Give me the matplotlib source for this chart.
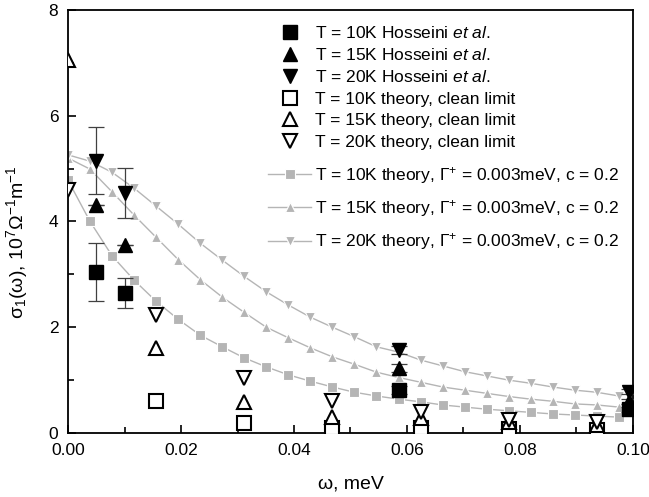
import numpy as np
import matplotlib
matplotlib.use("Agg")
import matplotlib.pyplot as plt

plt.rcParams['font.family'] = ['Liberation Sans', 'DejaVu Sans']
plt.rcParams['mathtext.fontset'] = 'custom'
plt.rcParams['mathtext.rm'] = 'Liberation Sans'
plt.rcParams['mathtext.it'] = 'Liberation Sans:italic'
plt.rcParams['mathtext.bf'] = 'Liberation Sans:bold'

# theory curves (disorder), omega grid
w_theory = [i * 0.0039 for i in range(26)]
s10_theory = [4.78, 4.00, 3.35, 2.89, 2.49, 2.15, 1.85, 1.63, 1.42, 1.25, 1.10, 0.98, 0.87,
              0.77, 0.70, 0.64, 0.59, 0.53, 0.49, 0.45, 0.42, 0.39, 0.36, 0.34, 0.32, 0.30]
s15_theory = [5.20, 4.99, 4.56, 4.12, 3.70, 3.28, 2.90, 2.57, 2.28, 2.00, 1.80, 1.61, 1.44,
              1.30, 1.15, 1.05, 0.96, 0.87, 0.81, 0.75, 0.69, 0.64, 0.60, 0.55, 0.53, 0.49]
s20_theory = [5.26, 5.14, 4.93, 4.63, 4.29, 3.95, 3.59, 3.27, 2.96, 2.67, 2.42, 2.19, 2.00,
              1.82, 1.63, 1.53, 1.38, 1.27, 1.16, 1.08, 1.00, 0.94, 0.87, 0.81, 0.77, 0.70]

# clean limit
w_clean = [0.0, 0.0156, 0.0312, 0.0468, 0.0625, 0.0781, 0.0937]
s10_clean = [9.5, 0.60, 0.19, 0.10, 0.10, 0.07, 0.05]
s15_clean = [7.05, 1.60, 0.59, 0.30, 0.28, 0.20, 0.15]
s20_clean = [4.60, 2.23, 1.04, 0.60, 0.40, 0.25, 0.20]

# experiment (Hosseini et al.)
w_exp = [0.005, 0.0100, 0.0585, 0.0993]
s10_exp = [3.04, 2.65, 0.81, 0.45]
s10_err = [0.55, 0.29, 0.08, 0.05]
s15_exp = [4.31, 3.55, 1.23, 0.60]
s15_err = [0.0, 0.0, 0.08, 0.05]
s20_exp = [5.15, 4.54, 1.57, 0.78]
s20_err = [0.63, 0.47, 0.08, 0.05]

labels = [
    r'T = 10K Hosseini $\it{et\ al.}$',
    r'T = 15K Hosseini $\it{et\ al.}$',
    r'T = 20K Hosseini $\it{et\ al.}$',
    'T = 10K theory, clean limit',
    'T = 15K theory, clean limit',
    'T = 20K theory, clean limit',
    r'T = 10K theory, $\Gamma^{+}$ = 0.003meV, c = 0.2',
    r'T = 15K theory, $\Gamma^{+}$ = 0.003meV, c = 0.2',
    r'T = 20K theory, $\Gamma^{+}$ = 0.003meV, c = 0.2',
]

fig = plt.figure(figsize=(6.49, 4.97), dpi=100)
ax = fig.add_axes([0.1048, 0.1288, 0.8705, 0.8511])

gray = '#b5b5b5'
handles = []
# experiment
for s, e, m in [(s10_exp, s10_err, 's'), (s15_exp, s15_err, '^'), (s20_exp, s20_err, 'v')]:
    ax.errorbar(w_exp, s, yerr=e, fmt='none', ecolor='#404040', elinewidth=0.9,
                capsize=6, capthick=0.9, zorder=4)
    h, = ax.plot(w_exp, s, linestyle='none', marker=m, color='black', markersize=10, zorder=5)
    handles.append(h)
# clean limit
for s, m in [(s10_clean, 's'), (s15_clean, '^'), (s20_clean, 'v')]:
    h, = ax.plot(w_clean, s, linestyle='none', marker=m, markerfacecolor='white',
                 markeredgecolor='black', markeredgewidth=1.5, markersize=10, zorder=3)
    handles.append(h)
# theory with disorder
for s, m in [(s10_theory, 's'), (s15_theory, '^'), (s20_theory, 'v')]:
    h, = ax.plot(w_theory, s, linestyle='-', linewidth=1.0, marker=m, color=gray,
                 markeredgecolor='white', markeredgewidth=0.8,
                 markersize=7.5, zorder=2)
    handles.append(h)

ax.set_xlim(0, 0.1)
ax.set_ylim(0, 8)
ax.set_xticks([0.0, 0.02, 0.04, 0.06, 0.08, 0.10])
ax.set_xticklabels(['0.00', '0.02', '0.04', '0.06', '0.08', '0.10'])
ax.set_xticks([0.01, 0.03, 0.05, 0.07, 0.09], minor=True)
ax.set_yticks([0, 2, 4, 6, 8])
ax.set_yticks([1, 3, 5, 7], minor=True)
ax.tick_params(which='both', direction='in', labelsize=12.5, width=1.2)
ax.tick_params(which='major', length=6)
ax.tick_params(which='minor', length=4)
ax.tick_params(axis='x', which='major', pad=7)
ax.tick_params(axis='y', which='major', pad=7)
for sp in ax.spines.values():
    sp.set_linewidth(1.3)

ax.set_xlabel('ω, meV', fontsize=14)
ax.xaxis.set_label_coords(0.5, -0.1)
ax.set_ylabel('σ$_1$(ω), 10$^7$Ω$^{-1}$m$^{-1}$', fontsize=14)
ax.yaxis.set_label_coords(-0.068, 0.45)

fs = 12.5
leg1 = fig.legend(handles[:6], labels[:6], loc='upper left', bbox_to_anchor=(268 / 649, 1 - 25 / 497),
                  frameon=False, fontsize=fs, handlelength=2.5, handletextpad=0.2,
                  labelspacing=0.36, borderpad=0, borderaxespad=0)
leg2 = fig.legend(handles[6:], labels[6:], loc='upper left', bbox_to_anchor=(268 / 649, 1 - 165 / 497),
                  frameon=False, fontsize=fs, handlelength=2.5, handletextpad=0.2,
                  labelspacing=0.7, borderpad=0, borderaxespad=0)

fig.savefig('out.png', dpi=100)
